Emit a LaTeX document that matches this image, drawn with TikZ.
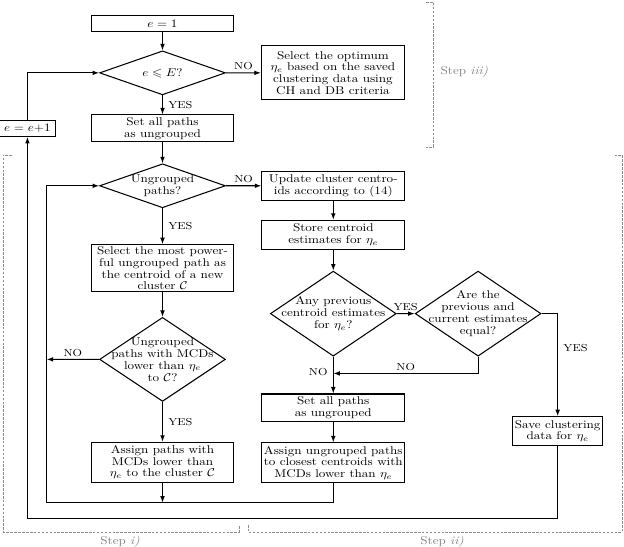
\documentclass[tikz,border=0pt]{standalone}
\usepackage{amsmath,amssymb}
\usepackage{tikz}
\usetikzlibrary{shapes.geometric, arrows.meta, positioning}
\tikzset{
    process/.style={
        rectangle,
        draw=black,
        thick,
        minimum width=109pt,
        minimum height=24pt,
        inner xsep=1.5pt,
        inner ysep=0.8pt,
        align=center,
        font=\fontsize{10}{10.4}\selectfont
    },
    decision/.style={
        diamond,
        draw=black,
        thick,
        minimum width=96pt,
        minimum height=39pt,
        inner sep=0pt
    },
    dtext/.style={
        align=center,
        inner sep=0pt,
        font=\fontsize{10}{10.6}\selectfont
    },
    flow/.style={
        draw=black,
        thick,
        -{Latex[length=5pt,width=3.6pt]}
    },
    answer/.style={
        font=\small,
        inner sep=2pt
    },
    stepline/.style={
        draw=black!45,
        thin,
        dash pattern=on 2pt off 1pt
    },
    steplabel/.style={
        text=black!50,
        font=\fontsize{10}{12}\selectfont
    }
}
\begin{document}
\begin{tikzpicture}[x=0.763pt, y=-0.887pt, yscale=0.86, transform shape]
\useasboundingbox (0,0) rectangle (624,547);

% Outer loop over e
\node[process, minimum height=15pt] (init) at (162.5,23.5) {$e=1$};
\node[decision, below=16pt of init, label={[dtext]center:{$e \leqslant E$?}}] (test) {};
\node[process, right=26.7pt of test, minimum height=48pt] (optim) {Select the optimum\\$\eta_e$ based on the saved\\clustering data using\\CH and DB criteria};
\node[process, below=17pt of test] (reset) {Set all paths\\as ungrouped};
\node[process, left=26pt of reset, minimum width=43.5pt, minimum height=14.2pt] (incr) {$e=e{+}1$};

% Step i)
\node[decision, below=18.6pt of reset, label={[dtext]center:{Ungrouped\\paths?}}] (ungr) {};
\node[process, below=32pt of ungr, minimum height=41.7pt] (newc) {Select the most power-\\ful ungrouped path as\\the centroid of a new\\cluster $\mathcal{C}$};
\node[decision, below=22pt of newc, minimum height=74.5pt, label={[dtext]center:{Ungrouped\\paths with MCDs\\lower than $\eta_e$\\to $\mathcal{C}$?}}] (mcd) {};
\node[process, below=35.5pt of mcd, minimum height=35.5pt] (assign) {Assign paths with\\MCDs lower than\\$\eta_e$ to the cluster $\mathcal{C}$};

% Step ii)
\node[process, right=27pt of ungr, minimum height=25.7pt] (update) {Update cluster centro-\\ids according to (14)};
\node[process, below=17pt of update, minimum height=25.7pt] (store) {Store centroid\\estimates for $\eta_e$};
\node[decision, below=18.6pt of store, minimum height=75.4pt, label={[dtext]center:{Any previous\\centroid estimates\\for $\eta_e$?}}] (prev) {};
\node[decision, right=13.7pt of prev, minimum height=75.4pt, label={[dtext]center:{Are the\\previous and\\current estimates\\equal?}}] (equal) {};
\node[process, below=32.8pt of prev] (reset2) {Set all paths\\as ungrouped};
\node[process, below=18.6pt of reset2, minimum height=35.5pt] (assign2) {Assign ungrouped paths\\to closest centroids with\\MCDs lower than $\eta_e$};
\node[process, below=53pt of equal, xshift=60.7pt, minimum width=69pt, minimum height=25.7pt] (save) {Save clustering\\data for $\eta_e$};

% Loop corners
\coordinate[left=40pt of mcd.west] (loopin);
\coordinate[below=17.7pt of assign.south] (loopbot);
\coordinate[below=32pt of assign.south] (outbot);
\coordinate[below=15pt of prev.south] (nojoin);

% Connections
\draw[flow] (init) -- (test);
\draw[flow] (test) -- node[answer, above] {NO} (optim);
\draw[flow] (test) -- node[answer, right=2pt] {YES} (reset);
\draw[flow] (reset) -- (ungr);
\draw[flow] (ungr) -- node[answer, above] {NO} (update);
\draw[flow] (ungr) -- node[answer, right=2pt] {YES} (newc);
\draw[flow] (newc) -- (mcd);
\draw[flow] (mcd) -- node[answer, right=2pt] {YES} (assign);
\draw[flow] (mcd.west) -- node[answer, above] {NO} (loopin);
\draw[flow] (assign) -- (loopbot);
\draw[flow] (assign2.south) |- (loopin |- loopbot) -- (loopin |- ungr.west) -- (ungr.west);

\draw[flow] (update) -- (store);
\draw[flow] (store) -- (prev);
\draw[flow] (prev) -- node[answer, above] {YES} (equal);
\draw[flow] (equal.south) |- node[answer, pos=0.75, above] {NO} (nojoin);
\draw[flow] (prev) -- node[answer, pos=0.43, left=2pt] {NO} (reset2);
\draw[flow] (reset2) -- (assign2);
\draw[flow] (equal.east) -| node[answer, pos=0.67, right=2pt] {YES} (save.north);
\draw[flow] (save.south) |- (incr |- outbot) -- (incr.south);
\draw[flow] (incr.north) |- (test.west);

% Steps
\draw[stepline] (426,2) -- (433,2) -- (433,147) -- (426,147);
\node[steplabel, anchor=west] (stepiii) at (436,72) {Step \textit{iii)}};
\draw[stepline] (12,155) -- (3,155) -- (3,532) -- (239,532) -- (239,525);
\draw[stepline] (248,525) -- (248,532) -- (622,532) -- (622,155) -- (615,155);
\node[steplabel] (stepi) at (120,542) {Step \textit{i)}};
\node[steplabel] (stepii) at (442,542) {Step \textit{ii)}};

\end{tikzpicture}
\end{document}
